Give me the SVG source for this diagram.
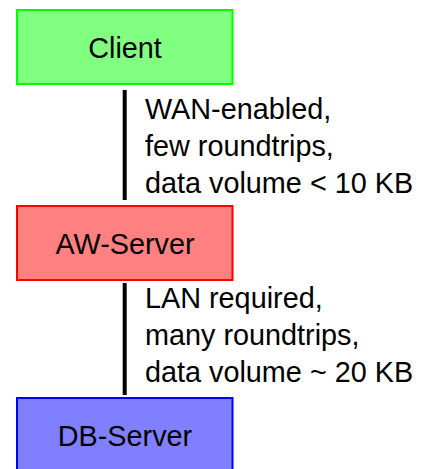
<svg xmlns="http://www.w3.org/2000/svg" width="422" height="469" viewBox="0 0 422 469">
<style>
text{font-family:"Liberation Sans",Arial,sans-serif;font-size:28.8px;fill:#000}
.node{stroke-width:2}
.lbl{text-anchor:middle}
.conn{stroke:#000;stroke-width:4;fill:none}
</style>
<rect width="422" height="469" fill="#fff"/>
<g id="client">
<rect class="node" x="17" y="10" width="215.5" height="74" fill="#80ff80" stroke="#00ff00"/>
<text class="lbl" x="125" y="57.5">Client</text>
</g>
<g id="aw-server">
<rect class="node" x="17" y="206" width="215.5" height="74" fill="#ff8080" stroke="#ff0000"/>
<text class="lbl" x="125" y="253.5">AW-Server</text>
</g>
<g id="db-server">
<rect class="node" x="17" y="398" width="215.5" height="80" fill="#8080ff" stroke="#0000ff"/>
<text class="lbl" x="125" y="445.5">DB-Server</text>
</g>
<g id="connectors">
<line class="conn" x1="124.7" y1="90" x2="124.7" y2="200"/>
<text x="145" y="119">WAN-enabled,</text>
<text x="145" y="156">few roundtrips,</text>
<text x="145" y="193">data volume &lt; 10 KB</text>
<line class="conn" x1="124.7" y1="283" x2="124.7" y2="395"/>
<text x="145" y="308">LAN required,</text>
<text x="145" y="345">many roundtrips,</text>
<text x="145" y="382">data volume ~ 20 KB</text>
</g>
</svg>
